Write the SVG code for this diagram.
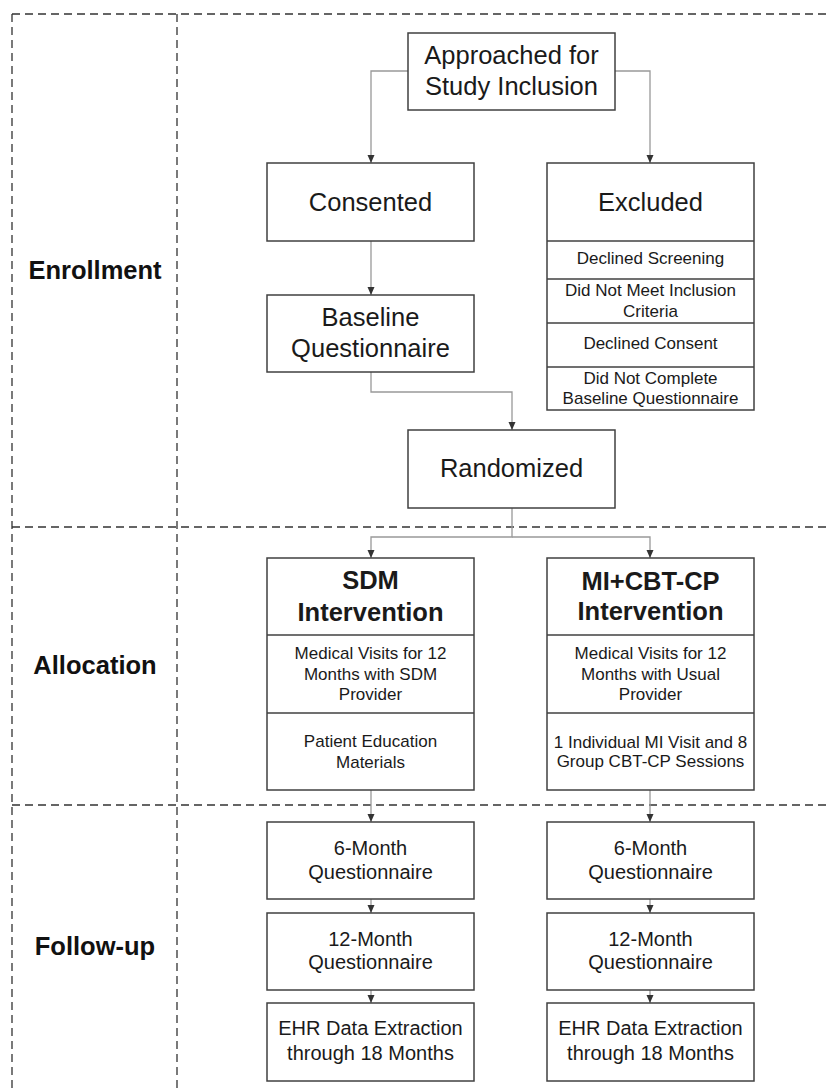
<svg xmlns="http://www.w3.org/2000/svg" width="827" height="1092" viewBox="0 0 827 1092">
<style>
.box{fill:#fff;stroke:#404040;stroke-width:1.5}
.sep{fill:none;stroke:#404040;stroke-width:1.5}
.lane{fill:none;stroke:#333;stroke-width:1.3;stroke-dasharray:8 5}
.con{fill:none;stroke:#999;stroke-width:1.3}
text{font-family:"Liberation Sans",Arial,sans-serif;fill:#1a1a1a;text-anchor:middle}
.big{font-size:25.5px}
.bold{font-size:25.5px;font-weight:bold}
.med{font-size:20px}
.sm{font-size:17px}
.lbl{font-size:25.5px;font-weight:bold;fill:#111}
</style>
<defs>
<marker id="arr" markerWidth="8" markerHeight="8" refX="8" refY="4" orient="auto" markerUnits="userSpaceOnUse">
<path d="M0,0.5 L8,4 L0,7.5 z" fill="#333"/>
</marker>
</defs>
<rect width="827" height="1092" fill="#fff"/>
<g id="lanes">
<line class="lane" x1="12" y1="14" x2="827" y2="14"/>
<line class="lane" x1="12" y1="14" x2="12" y2="1092"/>
<line class="lane" x1="177" y1="14" x2="177" y2="1092"/>
<line class="lane" x1="12" y1="527" x2="827" y2="527"/>
<line class="lane" x1="12" y1="805" x2="827" y2="805"/>
<text class="lbl" x="95" y="279">Enrollment</text>
<text class="lbl" x="95" y="674">Allocation</text>
<text class="lbl" x="95" y="955">Follow-up</text>
</g>
<g id="connectors">
<path class="con" d="M408,71 H371 V163" marker-end="url(#arr)"/>
<path class="con" d="M615,71 H650 V163" marker-end="url(#arr)"/>
<path class="con" d="M371,241 V295" marker-end="url(#arr)"/>
<path class="con" d="M371,372 V392 H512 V430" marker-end="url(#arr)"/>
<path class="con" d="M512,508 V537 H371 V558" marker-end="url(#arr)"/>
<path class="con" d="M512,537 H650 V558" marker-end="url(#arr)"/>
<path class="con" d="M371,790 V822" marker-end="url(#arr)"/>
<path class="con" d="M650,790 V822" marker-end="url(#arr)"/>
<path class="con" d="M371,899 V913" marker-end="url(#arr)"/>
<path class="con" d="M650,899 V913" marker-end="url(#arr)"/>
<path class="con" d="M371,990 V1003" marker-end="url(#arr)"/>
<path class="con" d="M650,990 V1003" marker-end="url(#arr)"/>
</g>
<g id="approached">
<rect class="box" x="408" y="33" width="207" height="77"/>
<text class="big" x="511.5" y="64">Approached for</text>
<text class="big" x="511.5" y="95">Study Inclusion</text>
</g>
<g id="consented">
<rect class="box" x="267" y="163" width="207" height="78"/>
<text class="big" x="370.5" y="211">Consented</text>
</g>
<g id="excluded">
<rect class="box" x="547" y="163" width="207" height="247"/>
<line class="sep" x1="547" y1="241" x2="754" y2="241"/>
<line class="sep" x1="547" y1="279" x2="754" y2="279"/>
<line class="sep" x1="547" y1="323" x2="754" y2="323"/>
<line class="sep" x1="547" y1="367" x2="754" y2="367"/>
<text class="big" x="650.5" y="211">Excluded</text>
<text class="sm" x="650.5" y="264">Declined Screening</text>
<text class="sm" x="650.5" y="296">Did Not Meet Inclusion</text>
<text class="sm" x="650.5" y="317">Criteria</text>
<text class="sm" x="650.5" y="349">Declined Consent</text>
<text class="sm" x="650.5" y="384">Did Not Complete</text>
<text class="sm" x="650.5" y="404">Baseline Questionnaire</text>
</g>
<g id="baseline">
<rect class="box" x="267" y="295" width="207" height="77"/>
<text class="big" x="370.5" y="326">Baseline</text>
<text class="big" x="370.5" y="357">Questionnaire</text>
</g>
<g id="randomized">
<rect class="box" x="408" y="430" width="207" height="78"/>
<text class="big" x="511.5" y="477">Randomized</text>
</g>
<g id="sdm">
<rect class="box" x="267" y="558" width="207" height="232"/>
<line class="sep" x1="267" y1="635" x2="474" y2="635"/>
<line class="sep" x1="267" y1="713" x2="474" y2="713"/>
<text class="bold" x="370.5" y="589">SDM</text>
<text class="bold" x="370.5" y="621">Intervention</text>
<text class="sm" x="370.5" y="659">Medical Visits for 12</text>
<text class="sm" x="370.5" y="680">Months with SDM</text>
<text class="sm" x="370.5" y="700">Provider</text>
<text class="sm" x="370.5" y="747">Patient Education</text>
<text class="sm" x="370.5" y="768">Materials</text>
</g>
<g id="mi">
<rect class="box" x="547" y="558" width="207" height="232"/>
<line class="sep" x1="547" y1="635" x2="754" y2="635"/>
<line class="sep" x1="547" y1="713" x2="754" y2="713"/>
<text class="bold" x="650.5" y="590">MI+CBT-CP</text>
<text class="bold" x="650.5" y="620">Intervention</text>
<text class="sm" x="650.5" y="659">Medical Visits for 12</text>
<text class="sm" x="650.5" y="680">Months with Usual</text>
<text class="sm" x="650.5" y="700">Provider</text>
<text class="sm" x="650.5" y="748">1 Individual MI Visit and 8</text>
<text class="sm" x="650.5" y="767">Group CBT-CP Sessions</text>
</g>
<g id="sdm-6m">
<rect class="box" x="267" y="822" width="207" height="77"/>
<text class="med" x="370.5" y="855">6-Month</text>
<text class="med" x="370.5" y="879">Questionnaire</text>
</g>
<g id="sdm-12m">
<rect class="box" x="267" y="913" width="207" height="77"/>
<text class="med" x="370.5" y="946">12-Month</text>
<text class="med" x="370.5" y="969">Questionnaire</text>
</g>
<g id="sdm-ehr">
<rect class="box" x="267" y="1003" width="207" height="78"/>
<text class="med" x="370.5" y="1035">EHR Data Extraction</text>
<text class="med" x="370.5" y="1060">through 18 Months</text>
</g>
<g id="mi-6m">
<rect class="box" x="547" y="822" width="207" height="77"/>
<text class="med" x="650.5" y="855">6-Month</text>
<text class="med" x="650.5" y="879">Questionnaire</text>
</g>
<g id="mi-12m">
<rect class="box" x="547" y="913" width="207" height="77"/>
<text class="med" x="650.5" y="946">12-Month</text>
<text class="med" x="650.5" y="969">Questionnaire</text>
</g>
<g id="mi-ehr">
<rect class="box" x="547" y="1003" width="207" height="78"/>
<text class="med" x="650.5" y="1035">EHR Data Extraction</text>
<text class="med" x="650.5" y="1060">through 18 Months</text>
</g>
</svg>
